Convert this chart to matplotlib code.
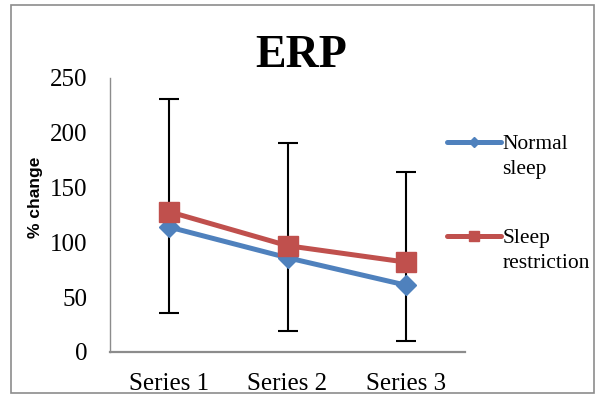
import matplotlib
matplotlib.use("Agg")
import matplotlib.pyplot as plt
from matplotlib.lines import Line2D
from matplotlib.patches import Rectangle
import numpy as np

# data
categories = ["Series 1", "Series 2", "Series 3"]
normal_sleep = [114, 86, 61]
sleep_restriction = [128, 97, 82]
err_low = [36, 19, 10]
err_high = [231, 191, 164]
y_ticks = [0, 50, 100, 150, 200, 250]

blue = "#4F81BD"
red = "#C0504D"
serif = "Liberation Serif"

fig = plt.figure(figsize=(5.96, 3.94), dpi=100)
ax = fig.add_axes([110/596, 1-352/394, 355/596, 274/394])

x = np.arange(1, len(categories) + 1)

# error bars (asymmetric, drawn behind the lines)
mid = np.array(sleep_restriction)
yerr = [mid - np.array(err_low), np.array(err_high) - mid]
ax.errorbar(x, mid, yerr=yerr, fmt="none", ecolor="black",
            elinewidth=1.5, capsize=7.5, capthick=1.5, zorder=2)

ln1, = ax.plot(x, normal_sleep, color=blue, lw=3.6, marker="D",
               markersize=10, zorder=3, solid_capstyle="round")
ln2, = ax.plot(x, sleep_restriction, color=red, lw=3.6, marker="s",
               markersize=14, zorder=4, solid_capstyle="round")

ax.set_xlim(0.5, 3.5)
ax.set_ylim(0, 250)
ax.set_xticks(x)
ax.set_xticklabels(categories, fontfamily=serif, fontsize=18)
ax.set_yticks(y_ticks)
ax.set_yticklabels([str(t) for t in y_ticks], fontfamily=serif, fontsize=18)
ax.tick_params(axis="x", length=0, pad=15)
ax.tick_params(axis="y", length=0, pad=16.5)

for s in ["top", "right"]:
    ax.spines[s].set_visible(False)
ax.spines["left"].set_color("#8c8c8c")
ax.spines["left"].set_linewidth(1.0)
ax.spines["bottom"].set_color("#8c8c8c")
ax.spines["bottom"].set_linewidth(1.6)

ax.set_ylabel("% change", fontfamily="Liberation Sans", fontweight="bold",
              fontsize=12.5)
ax.yaxis.set_label_coords(-0.188, 0.566)

fig.text(301/596, 1-67/394, "ERP", fontfamily=serif, fontweight="bold",
         fontsize=33, ha="center", va="baseline")

# legend: handle sits next to first line of each label
blank = Line2D([], [], color="none")
leg_kw = dict(frameon=False, prop={"family": serif, "size": 15.5},
              handlelength=2.5, handletextpad=0.08, borderpad=0,
              borderaxespad=0, labelspacing=0.23, markerscale=0.55,
              loc="upper left", bbox_transform=fig.transFigure)
leg1 = ax.legend([ln1, blank], ["Normal", "sleep"],
                 bbox_to_anchor=(447/596, 1-134/394), **leg_kw)
ax.add_artist(leg1)
ax.legend([ln2, blank], ["Sleep", "restriction"],
          bbox_to_anchor=(447/596, 1-228/394), **leg_kw)

# outer chart frame
fig.patches.append(Rectangle((11/596, 1-393/394), 583/596, 388/394,
                             transform=fig.transFigure, fill=False,
                             edgecolor="#8c8c8c", lw=1.2))

fig.savefig("out.png", dpi=100)
